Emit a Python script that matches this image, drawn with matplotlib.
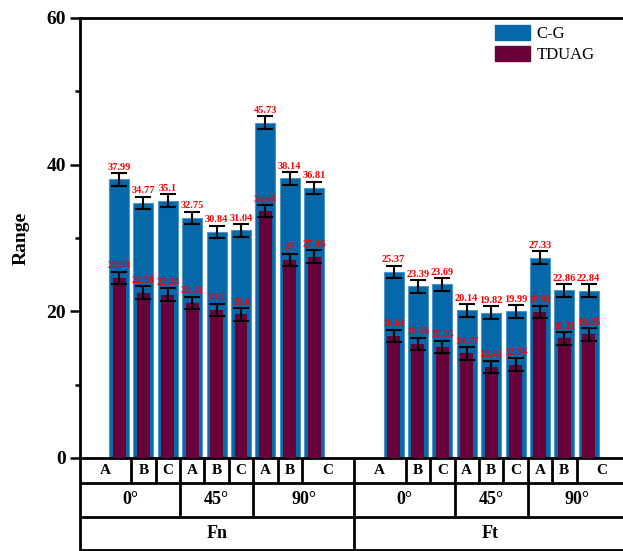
import matplotlib
matplotlib.use("Agg")
import matplotlib.pyplot as plt
import matplotlib.transforms as mtransforms
from matplotlib.patches import Patch
import numpy as np

plt.rcParams['font.family'] = ['Liberation Serif', 'DejaVu Serif']

# ---- data ----
materials = ["A", "B", "C"]
angles = ["0°", "45°", "90°"]
forces = ["Fn", "Ft"]
series = ["C-G", "TDUAG"]

fn_cg = [37.99, 34.77, 35.1, 32.75, 30.84, 31.04, 45.73, 38.14, 36.81]
fn_tduag = [24.53, 22.56, 22.28, 21.11, 20.2, 19.6, 33.65, 27, 27.46]
ft_cg = [25.37, 23.39, 23.69, 20.14, 19.82, 19.99, 27.33, 22.86, 22.84]
ft_tduag = [16.61, 15.56, 15.15, 14.27, 12.41, 12.74, 19.91, 16.31, 16.85]

fn_cg_err = [0.85, 0.85, 0.85, 0.85, 0.85, 0.85, 0.85, 0.85, 0.85]
fn_tduag_err = [0.85, 0.85, 0.85, 0.85, 0.85, 0.85, 0.85, 0.85, 0.85]
ft_cg_err = [0.85, 0.85, 0.85, 0.85, 0.85, 0.85, 0.85, 0.85, 0.85]
ft_tduag_err = [0.85, 0.85, 0.85, 0.85, 0.85, 0.85, 0.85, 0.85, 0.85]

blue = "#0468A9"
maroon = "#68003A"

W, H = 623, 551
fig = plt.figure(figsize=(W / 100, H / 100), dpi=100)
ax = fig.add_axes([80 / W, (H - 458) / H, 1 - 80 / W, 440 / H])

group_offset = 11.25
n = len(materials) * len(angles)
x_fn = np.arange(n)
x_ft = np.arange(n) + group_offset
xs = np.concatenate([x_fn, x_ft])
cg = fn_cg + ft_cg
td = fn_tduag + ft_tduag
cg_err = fn_cg_err + ft_cg_err
td_err = fn_tduag_err + ft_tduag_err

ax.bar(xs, cg, width=0.82, color=blue, edgecolor="#4d95c9", linewidth=0.8, zorder=2, label=series[0])
ax.errorbar(xs, cg, yerr=cg_err, fmt="none", ecolor="black", elinewidth=1.5,
            capsize=6, capthick=1.5, zorder=4)
ax.bar(xs, td, width=0.53, color=maroon, edgecolor=maroon, linewidth=0, zorder=3, label=series[1])
ax.errorbar(xs, td, yerr=td_err, fmt="none", ecolor="black", elinewidth=1.5,
            capsize=6, capthick=1.5, zorder=4)

for x, v, e in zip(xs, cg, cg_err):
    ax.text(x, v + e + 0.2, f"{v:g}", ha="center", va="bottom", color="red",
            fontsize=7.5, fontweight="bold", zorder=5)
for x, v, e in zip(xs, td, td_err):
    ax.text(x, v + e + 0.2, f"{v:g}", ha="center", va="bottom", color="red",
            fontsize=7.5, fontweight="bold", zorder=5)

x_left = -1.6
x_right = (623 - 119) / 24.4
table_right = (626 - 119) / 24.4
ax.set_xlim(x_left, x_right)
ax.set_ylim(0, 60)
ax.set_yticks([0, 20, 40, 60])
ax.set_yticks([10, 30, 50], minor=True)
ax.tick_params(axis="y", which="major", direction="out", length=7, width=1.8, labelsize=14, pad=3)
ax.tick_params(axis="y", which="minor", direction="out", length=3.5, width=1.8)
for lab in ax.get_yticklabels():
    lab.set_fontweight("bold")
ax.set_xticks([])
ax.set_ylabel("Range", fontsize=14, fontweight="bold", labelpad=12)

for s in ["left", "top", "bottom"]:
    ax.spines[s].set_linewidth(2.0)
ax.spines["right"].set_visible(False)

# ---- category table below ----
tr = mtransforms.blended_transform_factory(ax.transData, ax.transAxes)
row_y = [0.0, -25 / 440, -59 / 440, -92 / 440]
lw = 2.0

def hline(y):
    ax.plot([x_left, table_right + 1], [y, y], color="black", lw=lw, transform=tr,
            clip_on=False, solid_capstyle="butt")

def vline(x, y0, y1):
    ax.plot([x, x], [y0, y1], color="black", lw=lw, transform=tr, clip_on=False,
            solid_capstyle="butt")

for y in row_y[1:]:
    hline(y)
vline(x_left, 0, row_y[-1] - 0.01)

mid = (x_fn[-1] + x_ft[0]) / 2
bounds_fn = [x_left] + list((x_fn[:-1] + x_fn[1:]) / 2) + [mid]
bounds_ft = [mid] + list((x_ft[:-1] + x_ft[1:]) / 2) + [table_right]

for bounds in (bounds_fn, bounds_ft):
    # row 1: materials
    for i in range(n):
        a, b = bounds[i], bounds[i + 1]
        if i > 0:
            vline(a, row_y[0], row_y[1])
        ax.text((a + b) / 2, (row_y[0] + row_y[1]) / 2, materials[i % 3], transform=tr,
                ha="center", va="center", fontsize=11, fontweight="bold")
    # row 2: angles
    for j in range(3):
        a, b = bounds[3 * j], bounds[3 * j + 3]
        if j > 0:
            vline(a, row_y[1], row_y[2])
        ax.text((a + b) / 2, (row_y[1] + row_y[2]) / 2, angles[j], transform=tr,
                ha="center", va="center", fontsize=13, fontweight="bold")

vline(mid, row_y[0], row_y[-1] - 0.01)
for k, (a, b) in enumerate([(x_left, mid), (mid, table_right)]):
    ax.text((a + b) / 2, (row_y[2] + row_y[3]) / 2, forces[k], transform=tr,
            ha="center", va="center", fontsize=13, fontweight="bold")

handles = [Patch(facecolor=blue, edgecolor=blue), Patch(facecolor=maroon, edgecolor=maroon)]
fig.legend(handles, series, loc="upper left", bbox_to_anchor=(495 / W, 1 - 25 / H),
           frameon=False, fontsize=12, handlelength=2.1, handleheight=1.0,
           handletextpad=0.4, labelspacing=0.25, borderpad=0, borderaxespad=0)

fig.savefig("out.png", dpi=100)
